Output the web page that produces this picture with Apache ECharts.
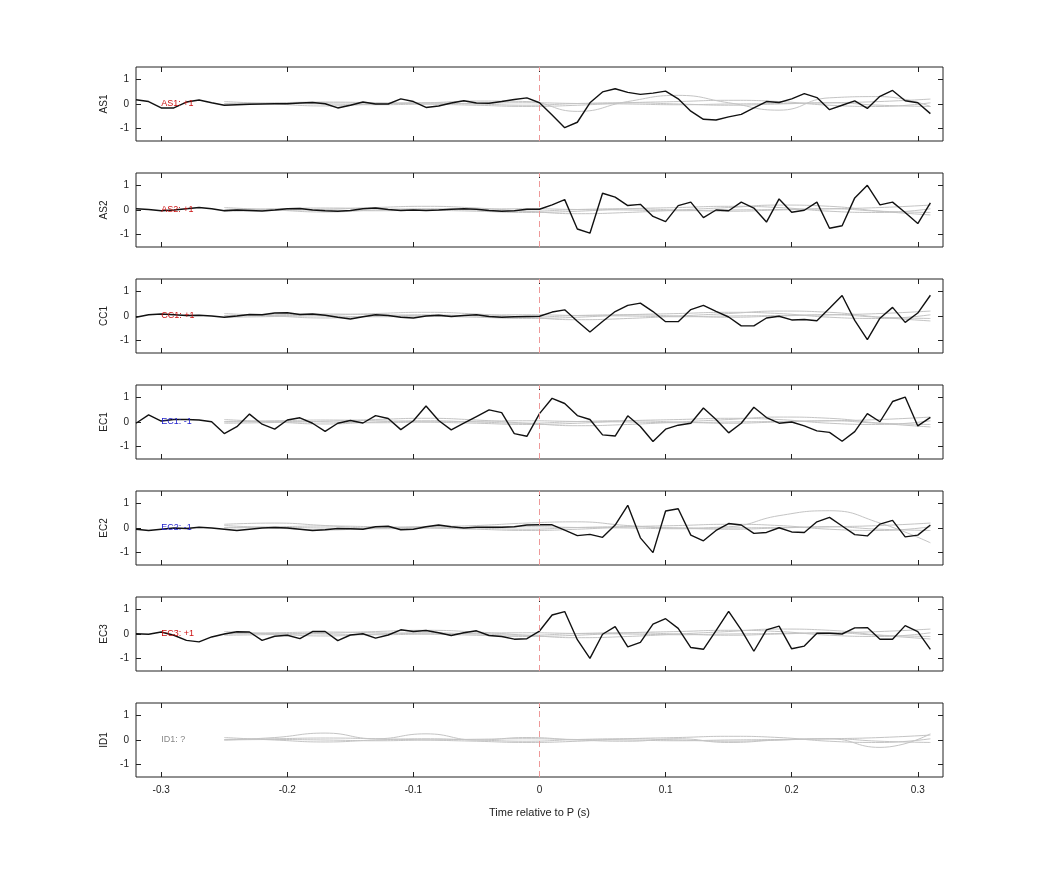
<!DOCTYPE html>
<html><head><meta charset="utf-8">
<script src="https://cdn.jsdelivr.net/npm/echarts@6/dist/echarts.min.js"></script>
<style>html,body{margin:0;background:#fff}#c{width:1042px;height:875px}</style></head>
<body><div id="c"></div>
<script>
const stations = ['AS1','AS2','CC1','EC1','EC2','EC3','ID1'];
const tags = ['AS1: +1','AS2: +1','CC1: +1','EC1: -1','EC2: -1','EC3: +1','ID1: ?'];
const tagColors = ['#cc1111','#cc1111','#cc1111','#2222cc','#2222cc','#cc1111','#888888'];
const xTicks = [-0.3,-0.2,-0.1,0,0.1,0.2,0.3];
const yTicks = [-1,0,1];
// times -0.32 .. 0.31 step 0.01
const times = [-0.32,-0.31,-0.30,-0.29,-0.28,-0.27,-0.26,-0.25,-0.24,-0.23,-0.22,-0.21,-0.20,-0.19,-0.18,-0.17,-0.16,-0.15,-0.14,-0.13,-0.12,-0.11,-0.10,-0.09,-0.08,-0.07,-0.06,-0.05,-0.04,-0.03,-0.02,-0.01,
 0,0.01,0.02,0.03,0.04,0.05,0.06,0.07,0.08,0.09,0.10,0.11,0.12,0.13,0.14,0.15,0.16,0.17,0.18,0.19,0.20,0.21,0.22,0.23,0.24,0.25,0.26,0.27,0.28,0.29,0.30,0.31];
const AS1 = [0.17,0.1,-0.16,-0.16,0.08,0.16,0.05,-0.05,-0.03,-0.01,0,0.01,0.01,0.04,0.06,0.01,-0.16,-0.05,0.08,0,0,0.21,0.1,-0.14,-0.08,0.04,0.13,0.04,0.03,0.1,0.18,0.25,
 0.05,-0.45,-0.96,-0.74,0.05,0.49,0.62,0.47,0.39,0.44,0.52,0.21,-0.29,-0.62,-0.65,-0.52,-0.42,-0.16,0.10,0.06,0.21,0.42,0.26,-0.23,-0.05,0.13,-0.18,0.31,0.55,0.13,0.05,-0.39];
const AS2 = [0.05,0.02,-0.03,0,0.05,0.1,0.05,-0.03,0,-0.02,-0.04,0,0.05,0.06,0,-0.03,-0.05,-0.02,0.05,0.08,0.02,-0.02,0,-0.02,0,0.03,0.05,0.03,-0.02,-0.05,-0.03,0.03,
 0.03,0.21,0.42,-0.77,-0.94,0.68,0.52,0.18,0.23,-0.26,-0.47,0.18,0.32,-0.31,0,-0.03,0.32,0.08,-0.49,0.45,-0.09,-0.01,0.32,-0.74,-0.64,0.49,1.0,0.21,0.32,-0.10,-0.55,0.29];
const CC1 = [-0.05,0.05,0.08,0.05,0.02,0.03,0,-0.05,0,0.06,0.05,0.12,0.13,0.06,0.08,0.03,-0.05,-0.12,-0.03,0.05,0.02,-0.05,-0.08,0,0.03,-0.02,0.02,0.05,-0.02,-0.05,-0.03,-0.02,
 -0.01,0.16,0.25,-0.21,-0.65,-0.22,0.18,0.43,0.52,0.18,-0.23,-0.23,0.26,0.43,0.19,-0.04,-0.4,-0.4,-0.08,-0.01,-0.16,-0.14,-0.19,0.31,0.83,-0.18,-0.96,-0.09,0.35,-0.26,0.12,0.84];
const EC1 = [-0.05,0.29,0.04,0.1,0.1,0.08,0.01,-0.47,-0.19,0.32,-0.09,-0.29,0.08,0.17,-0.05,-0.38,-0.05,0.06,-0.04,0.26,0.14,-0.31,0.05,0.65,0.06,-0.32,-0.05,0.22,0.49,0.38,-0.47,-0.58,
 0.34,0.96,0.75,0.26,0.1,-0.52,-0.57,0.25,-0.18,-0.79,-0.29,-0.13,-0.05,0.57,0.1,-0.44,-0.05,0.6,0.18,-0.05,0,-0.16,-0.36,-0.42,-0.78,-0.39,0.34,0.01,0.83,1.01,-0.16,0.19];
const EC2 = [-0.05,-0.1,-0.05,0,-0.02,0.03,0,-0.05,-0.1,-0.05,0,0.02,0,-0.05,-0.1,-0.07,-0.02,-0.03,-0.05,0.05,0.07,-0.07,-0.05,0.05,0.12,0.05,0,0.03,0.03,0.03,0.05,0.12,
 0.13,0.13,-0.09,-0.31,-0.26,-0.38,0.12,0.92,-0.4,-1.0,0.69,0.78,-0.29,-0.52,-0.1,0.18,0.12,-0.22,-0.18,0.01,-0.16,-0.18,0.25,0.43,0.08,-0.27,-0.32,0.16,0.31,-0.36,-0.29,0.12];
const EC3 = [0.01,-0.01,0.08,-0.05,-0.26,-0.32,-0.12,0,0.09,0.08,-0.26,-0.09,-0.05,-0.19,0.1,0.1,-0.27,-0.04,0.01,-0.17,-0.04,0.17,0.1,0.14,0.05,-0.06,0.05,0.13,-0.06,-0.1,-0.21,-0.19,
 0.12,0.77,0.91,-0.23,-0.99,-0.01,0.3,-0.52,-0.34,0.4,0.62,0.23,-0.55,-0.62,0.14,0.92,0.17,-0.7,0.17,0.32,-0.6,-0.49,0.03,0.03,0,0.25,0.26,-0.21,-0.21,0.34,0.1,-0.62];
const blackSeries = [AS1,AS2,CC1,EC1,EC2,EC3,null];
// gray reference traces, times -0.25 .. 0.31 step 0.04
const grayTimes = [-0.25,-0.21,-0.17,-0.13,-0.09,-0.05,-0.01,0.03,0.07,0.11,0.15,0.19,0.23,0.27,0.31];
const G1 = [0.02,0.05,0.08,0.05,0,-0.05,-0.1,-0.05,0.05,0.1,0.15,0.1,-0.05,-0.1,0.05];
const G2 = [-0.05,-0.02,0.03,0.1,0.15,0.08,-0.05,-0.15,-0.1,0,0.1,0.2,0.15,-0.05,-0.2];
const G3 = [0,0.02,0,-0.03,0,0.03,0.05,0.02,0,-0.03,0,0.02,0.05,0.1,0.2];
const G4 = [0.1,0,-0.08,0,0.05,0,-0.05,0.02,0.05,0,-0.05,0,0.05,-0.05,-0.1];
const AS1W = [0,0.02,0.05,0.03,0.05,0.12,0.1,-0.3,0.1,0.35,0.05,-0.25,0.25,0.3,-0.1];
const EC2W = [0.15,0.2,0.1,0,0.05,0.1,0.2,0.25,0.1,0,0.05,0.5,0.7,0.2,-0.6];
const ID1W = [0,0.1,0.28,0.05,0.25,0,0.1,0,-0.05,0.05,-0.1,0,0.05,-0.3,0.25];
const grayPerPanel = [[G1,G3,G4,AS1W],[G1,G2,G3,G4],[G1,G2,G3,G4],[G1,G2,G3,G4],[G1,G3,G4,EC2W],[G1,G2,G3,G4],[G1,G3,G4,ID1W]];

const top0 = 67, step = 106, h = 74, L = 136, R = 99;
const grid=[], xAxis=[], yAxis=[], series=[];
const lbl = {fontFamily:'Liberation Sans, Arial', fontSize:10, color:'#222'};
stations.forEach((s,i)=>{
  grid.push({left:L, right:R, top:top0+i*step, height:h, show:true, borderColor:'#222', borderWidth:1, backgroundColor:'#fff'});
  const last = i===stations.length-1;
  const xa = {type:'value', gridIndex:i, min:-0.32, max:0.32, interval:0.1,
    axisLine:{show:false, onZero:false}, splitLine:{show:false},
    axisTick:{show:true, inside:true, length:5, lineStyle:{color:'#222'}, customValues:xTicks},
    axisLabel:{show:last, ...lbl, margin:8, customValues:xTicks, formatter:v=>String(+v.toFixed(1))}};
  xAxis.push({...xa, position:'bottom', name: last?'Time relative to P (s)':'', nameLocation:'middle', nameGap:30, nameTextStyle:{...lbl, fontSize:11}});
  xAxis.push({...xa, position:'top', axisLabel:{show:false}, name:''});
  const ya = {type:'value', gridIndex:i, min:-1.5, max:1.5, axisLine:{show:false, onZero:false}, splitLine:{show:false},
    axisTick:{show:true, inside:true, length:5, lineStyle:{color:'#222'}, customValues:yTicks}};
  yAxis.push({...ya, position:'left', axisLabel:{...lbl, margin:7, customValues:yTicks}, name:s, nameLocation:'middle', nameGap:24, nameRotate:90, nameTextStyle:{...lbl, fontSize:10}});
  yAxis.push({...ya, position:'right', axisLabel:{show:false}});
  grayPerPanel[i].forEach(g=>{
    series.push({type:'line', xAxisIndex:2*i, yAxisIndex:2*i, smooth:0.5, symbol:'none', silent:true,
      lineStyle:{color:'#c4c4c4', width:1}, data:grayTimes.map((t,k)=>[t,g[k]])});
  });
  const b = blackSeries[i];
  series.push({type:'line', xAxisIndex:2*i, yAxisIndex:2*i, symbol:'none', silent:true,
    lineStyle:{color:b?'#111':'transparent', width:1.4}, data: b ? times.map((t,k)=>[t,b[k]]) : [[-0.3,0]],
    markLine:{silent:true, symbol:'none', label:{show:false}, lineStyle:{color:'#e99', type:[6,4], width:1}, data:[{xAxis:0}]},
    markPoint:{symbol:'circle', symbolSize:0, data:[{coord:[-0.3,0]}],
      label:{show:true, formatter:tags[i], position:'right', distance:0, color:tagColors[i], fontFamily:'Liberation Sans, Arial', fontSize:9}}});
});
const chart = echarts.init(document.getElementById('c'));
chart.setOption({animation:false, backgroundColor:'#fff', grid, xAxis, yAxis, series});
</script></body></html>
